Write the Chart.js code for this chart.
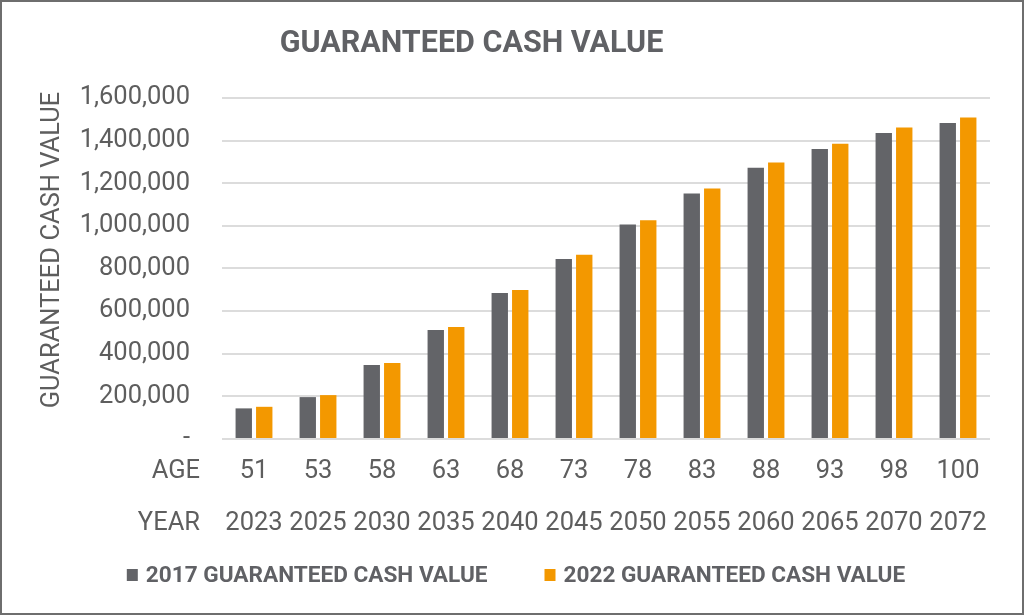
<!DOCTYPE html>
<html>
<head>
<meta charset="utf-8">
<script src="https://cdn.jsdelivr.net/npm/chart.js@4.4.0/dist/chart.umd.min.js"></script>
<style>
    html, body { margin: 0; padding: 0; background: #ffffff; }
    .frame {
        width: 1024px;
        height: 615px;
        box-sizing: border-box;
        border: 2px solid #6e6e6e;
        position: relative;
        background: #ffffff;
    }
</style>
</head>
<body>
<div class="frame">
    <canvas id="cashChart"></canvas>
</div>
<script>
const chartTitle = 'GUARANTEED CASH VALUE';
const axisTitle = 'GUARANTEED CASH VALUE';
const rowLabels = ['AGE', 'YEAR'];
const ages = ['51', '53', '58', '63', '68', '73', '78', '83', '88', '93', '98', '100'];
const years = ['2023', '2025', '2030', '2035', '2040', '2045', '2050', '2055', '2060', '2065', '2070', '2072'];
const seriesNames = ['2017 GUARANTEED CASH VALUE', '2022 GUARANTEED CASH VALUE'];
const values2017 = [143600, 196500, 347500, 510800, 684800, 845000, 1006000, 1152000, 1273000, 1361000, 1436000, 1483000];
const values2022 = [151000, 205800, 357000, 526000, 698800, 864000, 1026000, 1175000, 1297000, 1385000, 1462000, 1508000];

const gray = '#636468';
const orange = '#f39800';
const textGray = '#5e5e5e';
const fontFamily = 'Roboto';

const tickSize = 25.5;
const rowLineHeight = 2.02;
const tickPad = 7;

const labels = ages.map((age, i) => [age, years[i]]);

// title, axis title, row captions and legend drawn by hand
const decorPlugin = {
    id: 'decor',
    afterDraw(chart) {
        const ctx = chart.ctx;
        const area = chart.chartArea;
        const xScale = chart.scales.x;
        ctx.save();

        ctx.fillStyle = '#606165';
        ctx.font = `bold 30.5px ${fontFamily}`;
        ctx.textAlign = 'center';
        ctx.textBaseline = 'alphabetic';
        ctx.fillText(chartTitle, 469.5, 50);

        // rotated axis title
        ctx.save();
        ctx.translate(51, 248);
        ctx.rotate(-Math.PI / 2);
        ctx.fillStyle = textGray;
        ctx.font = `${tickSize}px ${fontFamily}`;
        ctx.textAlign = 'center';
        ctx.textBaseline = 'middle';
        ctx.fillText(axisTitle, 0, 0);
        ctx.restore();

        ctx.fillStyle = textGray;
        ctx.font = `${tickSize}px ${fontFamily}`;
        ctx.textAlign = 'right';
        ctx.textBaseline = 'middle';
        const lh = tickSize * rowLineHeight;
        rowLabels.forEach((txt, i) => {
            ctx.fillText(txt, area.left - 22, xScale.top + tickPad + lh / 2 + i * lh);
        });

        ctx.font = `bold 22.6px ${fontFamily}`;
        ctx.textAlign = 'left';
        ctx.textBaseline = 'alphabetic';
        const box = 11, gap = 8, spacing = 57;
        const items = chart.data.datasets.map(ds => ({
            text: ds.label,
            color: ds.backgroundColor,
            w: ctx.measureText(ds.label).width
        }));
        let total = 0;
        items.forEach((it, i) => { total += box + gap + it.w + (i > 0 ? spacing : 0); });
        let x = chart.width / 2 + 4 - total / 2;
        const baseY = 580;
        items.forEach(it => {
            ctx.fillStyle = it.color;
            ctx.fillRect(x, baseY - 13, box, 12);
            ctx.fillStyle = '#606165';
            ctx.fillText(it.text, x + box + gap, baseY);
            x += box + gap + it.w + spacing;
        });

        ctx.restore();
    }
};

const ctx = document.getElementById('cashChart').getContext('2d');
new Chart(ctx, {
    type: 'bar',
    data: {
        labels: labels,
        datasets: [
            {
                label: seriesNames[0],
                data: values2017,
                backgroundColor: gray,
                categoryPercentage: 0.64,
                barPercentage: 0.8
            },
            {
                label: seriesNames[1],
                data: values2022,
                backgroundColor: orange,
                categoryPercentage: 0.64,
                barPercentage: 0.8
            }
        ]
    },
    options: {
        responsive: true,
        maintainAspectRatio: false,
        animation: false,
        layout: {
            padding: { top: 96, right: 32, bottom: 57, left: 30 }
        },
        plugins: {
            legend: { display: false },
            title: { display: false },
            tooltip: { enabled: false }
        },
        scales: {
            x: {
                grid: { display: false, drawTicks: false },
                border: { display: false },
                ticks: {
                    color: textGray,
                    padding: tickPad,
                    maxRotation: 0,
                    autoSkip: false,
                    font: { family: fontFamily, size: tickSize, lineHeight: rowLineHeight }
                }
            },
            y: {
                min: 0,
                max: 1600000,
                grid: { color: '#dcdcdc', lineWidth: 2, drawTicks: false },
                border: { display: false },
                afterFit(scale) {
                    scale.width = 190;
                },
                ticks: {
                    stepSize: 200000,
                    color: textGray,
                    padding: 32,
                    font: { family: fontFamily, size: tickSize },
                    callback: value => value === 0 ? '-' : value.toLocaleString('en-US')
                }
            }
        }
    },
    plugins: [decorPlugin]
});
</script>
</body>
</html>
